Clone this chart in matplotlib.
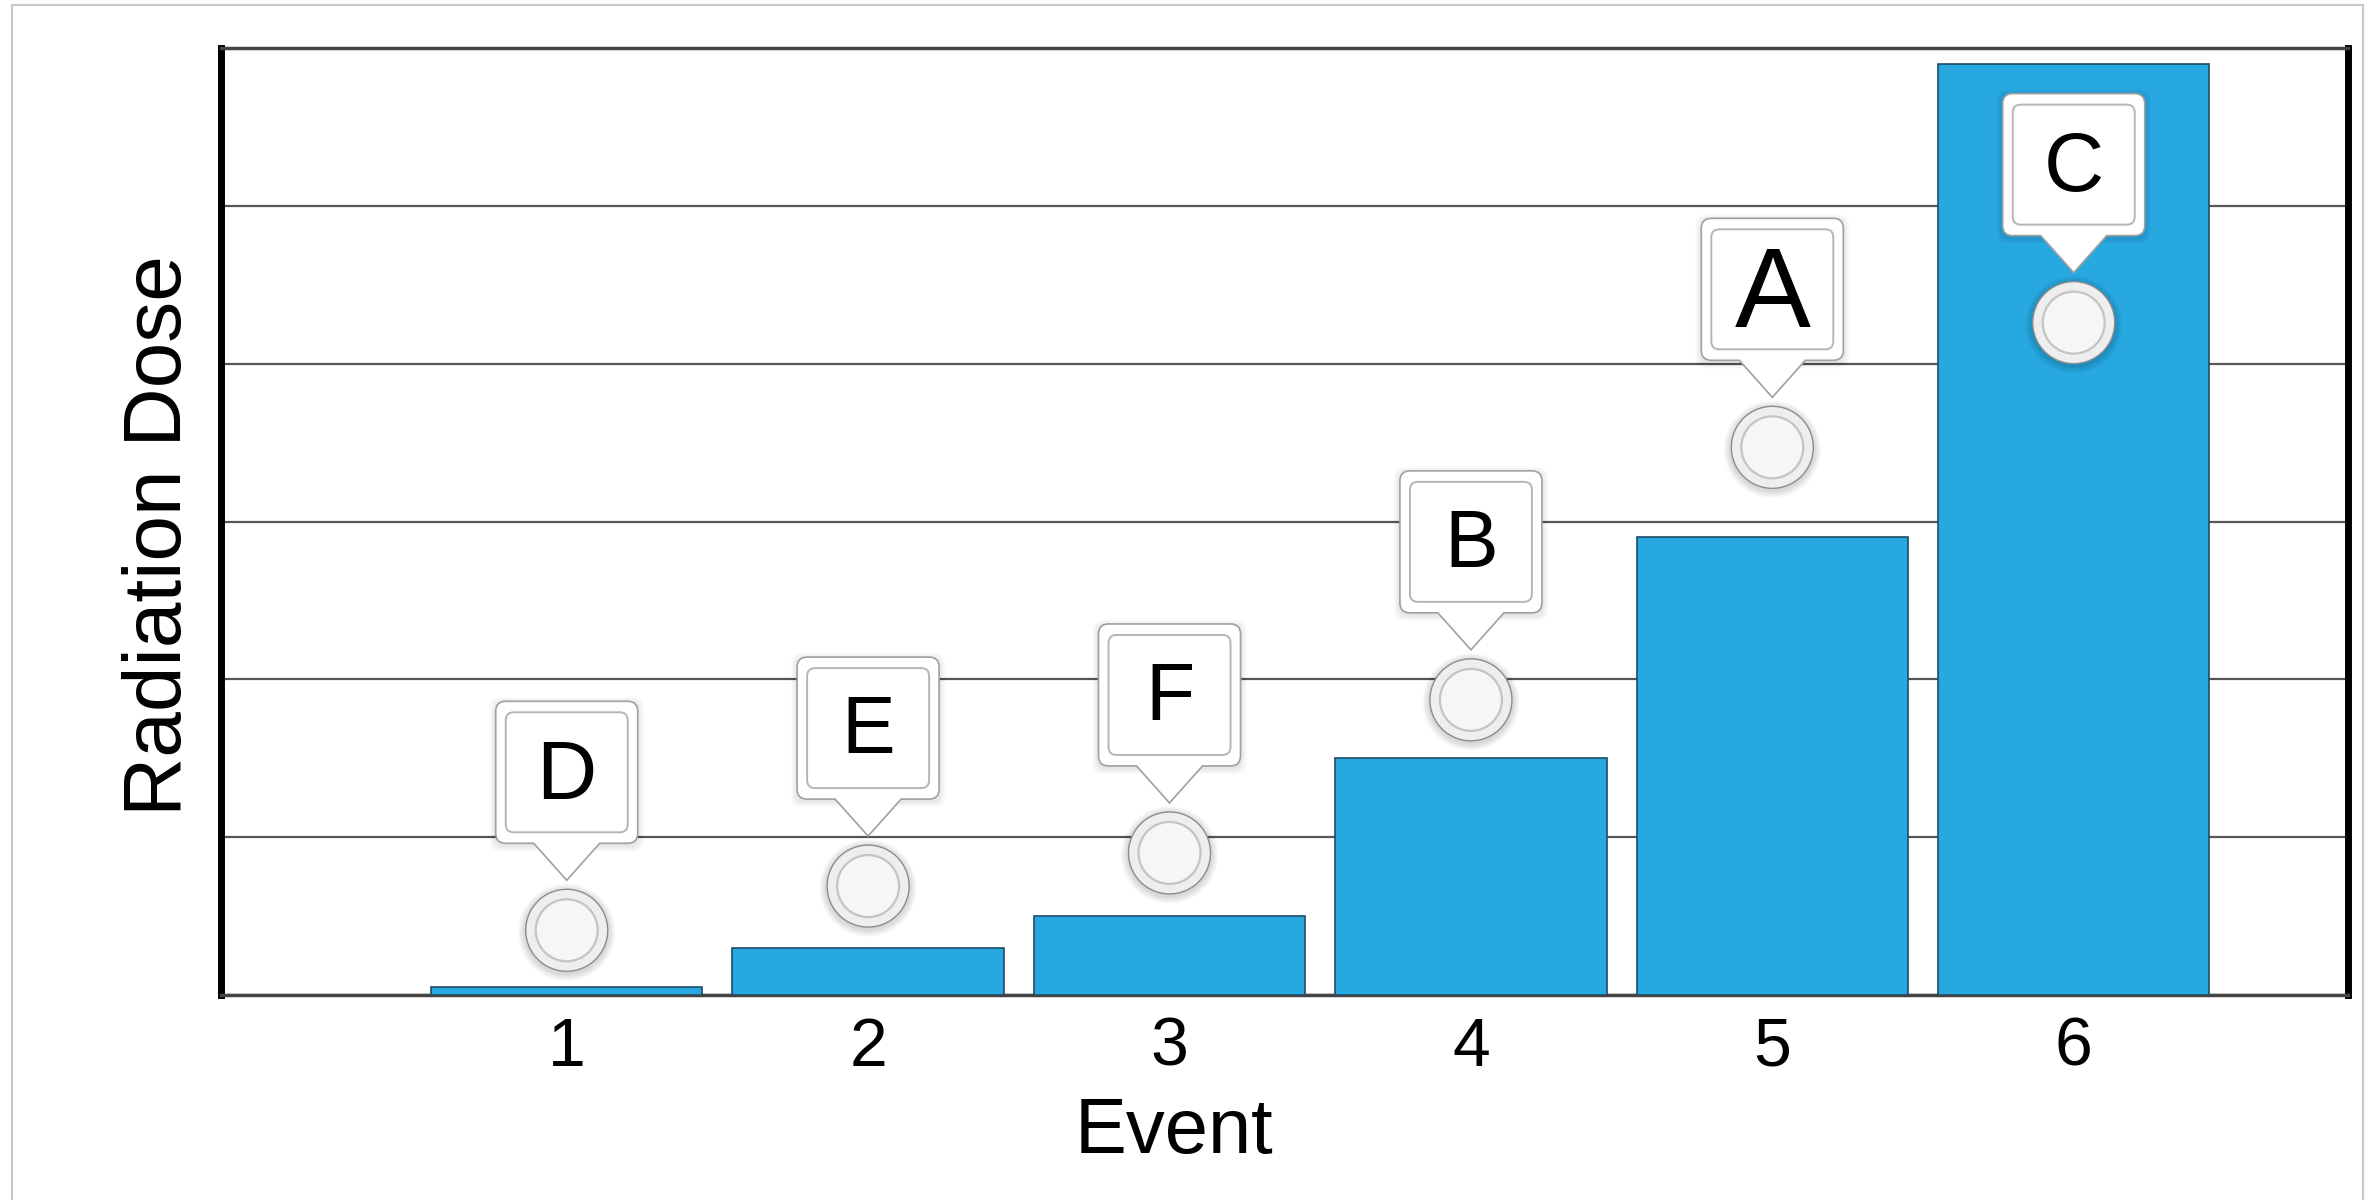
import matplotlib
matplotlib.use("Agg")
import matplotlib.pyplot as plt
from matplotlib.path import Path
from matplotlib.patches import PathPatch, Circle, FancyBboxPatch
from matplotlib.transforms import ScaledTranslation
from matplotlib.lines import Line2D


# Data (y in gridline units)

events = [1, 2, 3, 4, 5, 6]
dose = [0.05, 0.30, 0.50, 1.50, 2.90, 5.90]

pin_labels = ["D", "E", "F", "B", "A", "C"]
pin_levels = [0.41, 0.69, 0.90, 1.87, 3.47, 4.26]
pin_sizes = [60, 58, 58, 58, 82, 60]

BAR_BLUE = "#27a8e0"

plt.rcParams["font.family"] = ["Liberation Sans", "DejaVu Sans"]

W, H = 2369, 1200
fig = plt.figure(figsize=(W / 100, H / 100), dpi=100)
ax = fig.add_axes([221 / W, 1 - 995 / H, (2348 - 221) / W, (995 - 48) / H])

ax.bar(events, dose, width=0.9, color=BAR_BLUE, edgecolor="#1f4d66",
       linewidth=1.2, zorder=3)

ax.set_xlim(-0.147, 6.91)
ax.set_ylim(0, 6)
ax.set_yticks(range(7))
ax.set_yticklabels([])
ax.set_xticks(events)
ax.tick_params(axis="both", length=0)
ax.tick_params(axis="x", labelsize=49, pad=15)
ax.grid(axis="y", color="#555555", linewidth=1.6)
ax.set_axisbelow(True)

for side in ["left", "right"]:
    ax.spines[side].set_linewidth(5)
    ax.spines[side].set_color("black")
for side in ["top", "bottom"]:
    ax.spines[side].set_linewidth(2.5)
    ax.spines[side].set_color("#444444")


# Callout pin shape (inches, relative to the circle centre)

def callout_path(w=0.71, b=0.87, t=2.29, r=0.1, tw=0.33, tip=0.50):
    verts = [(-tw, b), (0, tip), (tw, b),
             (w - r, b), (w, b), (w, b + r),
             (w, t - r), (w, t), (w - r, t),
             (-w + r, t), (-w, t), (-w, t - r),
             (-w, b + r), (-w, b), (-w + r, b),
             (-tw, b)]
    codes = [Path.MOVETO, Path.LINETO, Path.LINETO,
             Path.LINETO, Path.CURVE3, Path.CURVE3,
             Path.LINETO, Path.CURVE3, Path.CURVE3,
             Path.LINETO, Path.CURVE3, Path.CURVE3,
             Path.LINETO, Path.CURVE3, Path.CURVE3,
             Path.CLOSEPOLY]
    return Path(verts, codes)


def draw_pin(x, y, label, size):
    tr = fig.dpi_scale_trans + ScaledTranslation(x, y, ax.transData)

    # soft shadows
    for k in range(1, 6):
        ax.add_patch(Circle((0, -0.02), 0.41 + 0.015 * k, transform=tr,
                            fc="black", ec="none", alpha=0.03, zorder=4,
                            clip_on=False))
        ax.add_patch(FancyBboxPatch((-0.71, 0.85), 1.42, 1.42,
                                    boxstyle=f"round,pad={0.012 * k},rounding_size=0.1",
                                    transform=tr, fc="black", ec="none",
                                    alpha=0.02, zorder=4, clip_on=False))

    ax.add_patch(Circle((0, 0), 0.41, transform=tr, fc="#eeeeee",
                        ec="#8c8c8c", lw=1.0, zorder=5, clip_on=False))
    ax.add_patch(Circle((0, 0), 0.31, transform=tr, fc="#f6f6f6",
                        ec="#c4c4c4", lw=1.6, zorder=5, clip_on=False))

    ax.add_patch(PathPatch(callout_path(), transform=tr, fc="white",
                           ec="#a0a0a0", lw=1.2, zorder=5, clip_on=False))
    ax.add_patch(FancyBboxPatch((-0.61, 0.98), 1.22, 1.20,
                                boxstyle="round,pad=0,rounding_size=0.08",
                                transform=tr, fc="white", ec="#b5b5b5",
                                lw=1.4, zorder=6, clip_on=False))

    baseline = 1.615 - size * 0.00995 / 2
    ax.text(0, baseline, label, transform=tr, ha="center", va="baseline",
            fontsize=size, color="black", zorder=7, clip_on=False)


for x, lvl, lab, sz in zip(events, pin_levels, pin_labels, pin_sizes):
    draw_pin(x, lvl, lab, sz)


# Axis titles

fig.text(1174 / W, 1 - 1153 / H, "Event", ha="center", va="baseline",
         fontsize=56)
fig.text(160 / W, 1 - 536 / H, "Radiation Dose", rotation=90,
         ha="center", va="center", fontsize=59)

# thin outer frame of the original screenshot
frame = dict(transform=fig.transFigure, color="#c8c8c8", lw=1.5)
fig.add_artist(Line2D([12 / W, 12 / W], [0, 1 - 5 / H], **frame))
fig.add_artist(Line2D([12 / W, 2363 / W], [1 - 5 / H, 1 - 5 / H], **frame))
fig.add_artist(Line2D([2363 / W, 2363 / W], [0, 1 - 5 / H], **frame))

fig.savefig("out.png", dpi=100)
